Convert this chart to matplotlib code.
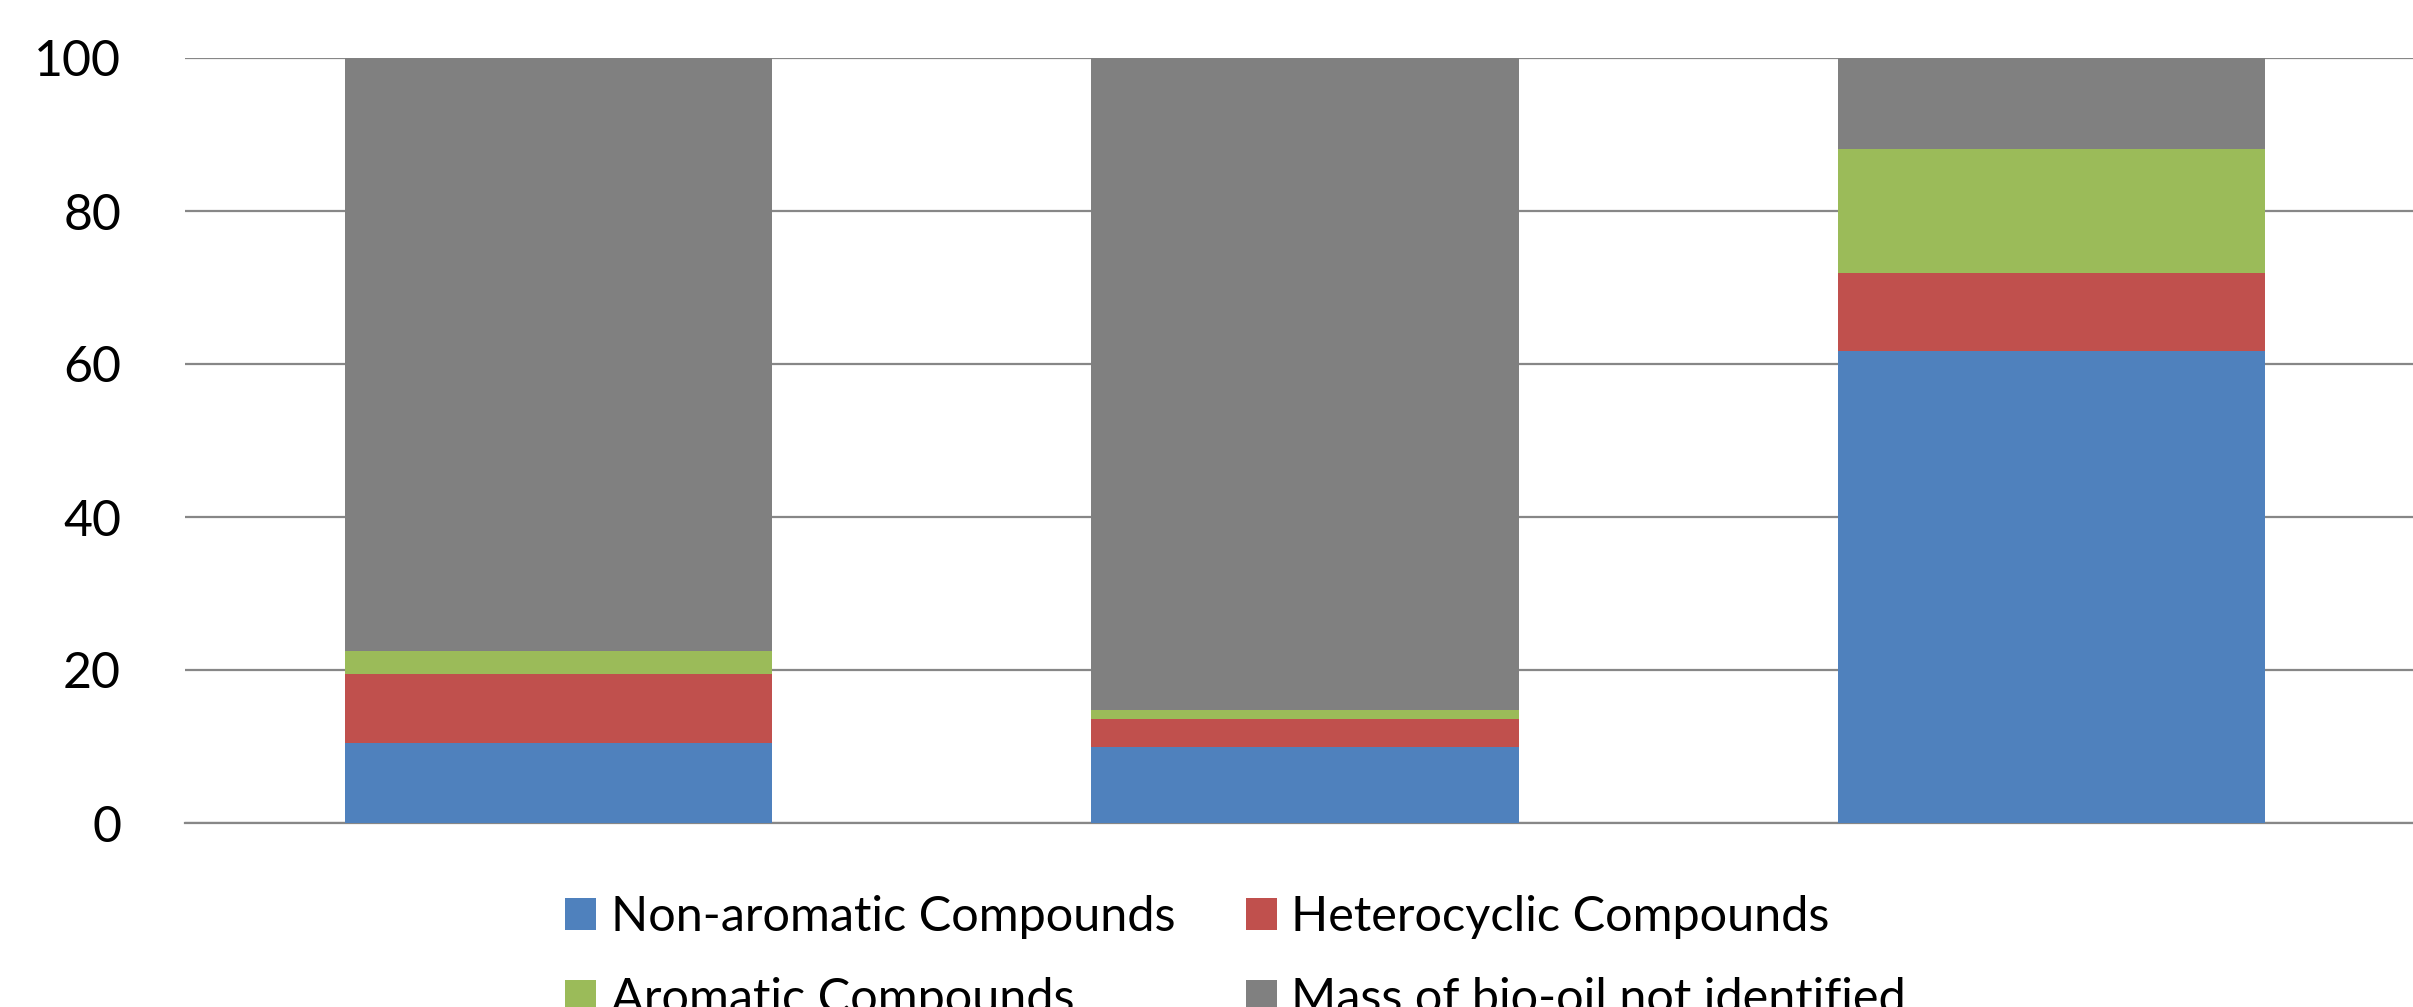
import numpy as np
import matplotlib.pyplot as plt
from matplotlib.patches import Patch

# stacked composition of bio-oil (%), three samples
samples = ["A", "B", "C"]
non_aromatic = [10.5, 9.9, 61.7]
heterocyclic = [9.0, 3.7, 10.2]
aromatic = [3.0, 1.2, 16.2]
not_identified = [77.5, 85.2, 11.9]

series = [
    ("Non-aromatic Compounds", non_aromatic, "#4f81bd"),
    ("Heterocyclic Compounds", heterocyclic, "#c0504d"),
    ("Aromatic Compounds", aromatic, "#9bbb59"),
    ("Mass of bio-oil not identified", not_identified, "#808080"),
]

plt.rcParams["font.family"] = ["Lato", "DejaVu Sans"]

fig = plt.figure(figsize=(24.13, 10.07), dpi=100)
ax = fig.add_axes([185 / 2413, 1 - 823 / 1007, (2425 - 185) / 2413, (823 - 58) / 1007])

x = np.arange(len(samples))
bottom = np.zeros(len(samples))
for label, vals, color in series:
    ax.bar(x, vals, width=0.572, bottom=bottom, color=color, label=label,
           edgecolor="none", zorder=3)
    bottom += np.array(vals)

ax.set_xlim(-0.5, 2.5)
ax.set_ylim(0, 100)
ax.set_yticks([0, 20, 40, 60, 80, 100])
ax.set_xticks([])
ax.yaxis.grid(True, color="#878787", linewidth=1.6, zorder=0)
ax.set_axisbelow(True)
for side in ["top", "right", "left"]:
    ax.spines[side].set_visible(False)
ax.spines["bottom"].set_color("#878787")
ax.spines["bottom"].set_linewidth(1.6)
ax.tick_params(axis="y", length=0, pad=46, labelsize=36)

# legend fills column-wise: two rows, two columns
order = [0, 2, 1, 3]
handles = [Patch(facecolor=series[i][2], edgecolor="none") for i in order]
labels = [series[i][0] for i in order]
fig.legend(handles, labels, loc="upper left", bbox_to_anchor=(565 / 2413, 1 - 895 / 1007),
           ncol=2, frameon=False, fontsize=35, handlelength=0.64, handleheight=0.64,
           handletextpad=0.3, columnspacing=1.45, labelspacing=0.78, borderaxespad=0,
           borderpad=0)

fig.savefig("out.png", dpi=100)
